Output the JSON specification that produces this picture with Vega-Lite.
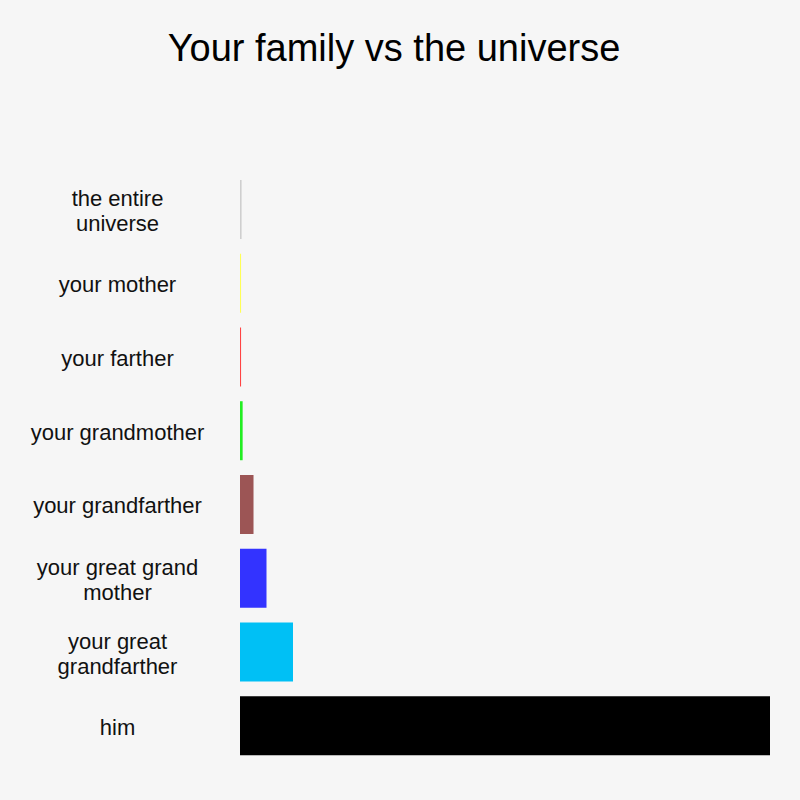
{
  "$schema": "https://vega.github.io/schema/vega-lite/v6.json",
  "autosize": "none",
  "width": 530,
  "height": 590,
  "padding": {"left": 240, "top": 172.6, "right": 30, "bottom": 37.4},
  "background": "#f6f6f6",
  "title": {
    "text": "Your family vs the universe",
    "fontSize": 38,
    "font": "Liberation Sans",
    "fontWeight": "normal",
    "color": "#000000",
    "anchor": "middle",
    "frame": "group",
    "dx": -111,
    "offset": 104
  },
  "data": {
    "values": [
      {"name": "the entire|universe", "value": 3, "color": "#cfcfcf", "order": 1},
      {"name": "your mother", "value": 2, "color": "#ffff55", "order": 2},
      {"name": "your farther", "value": 2, "color": "#ff4444", "order": 3},
      {"name": "your grandmother", "value": 5, "color": "#22ee22", "order": 4},
      {"name": "your grandfarther", "value": 25.5, "color": "#9c5555", "order": 5},
      {"name": "your great grand|mother", "value": 50, "color": "#3333ff", "order": 6},
      {"name": "your great|grandfarther", "value": 100, "color": "#00c0f5", "order": 7},
      {"name": "him", "value": 1000, "color": "#000000", "order": 8}
    ]
  },
  "mark": {"type": "bar"},
  "encoding": {
    "y": {
      "field": "name",
      "type": "nominal",
      "sort": {"field": "order", "order": "ascending"},
      "scale": {"paddingInner": 0.2, "paddingOuter": 0.1},
      "axis": {
        "title": null,
        "domain": false,
        "ticks": false,
        "grid": false,
        "labelFont": "Liberation Sans",
        "labelFontSize": 22,
        "labelColor": "#111111",
        "labelAlign": "center",
        "labelPadding": 123,
        "labelLineHeight": 25,
        "labelLimit": 300,
        "labelOffset": {"condition": {"test": "indexof(datum.value, '|') >= 0", "value": -10}, "value": 2},
        "labelExpr": "split(datum.value, '|')"
      }
    },
    "x": {
      "field": "value",
      "type": "quantitative",
      "scale": {"domain": [0, 1000], "nice": false},
      "axis": null
    },
    "color": {"field": "color", "type": "nominal", "scale": null, "legend": null}
  },
  "config": {"view": {"stroke": null}}
}
